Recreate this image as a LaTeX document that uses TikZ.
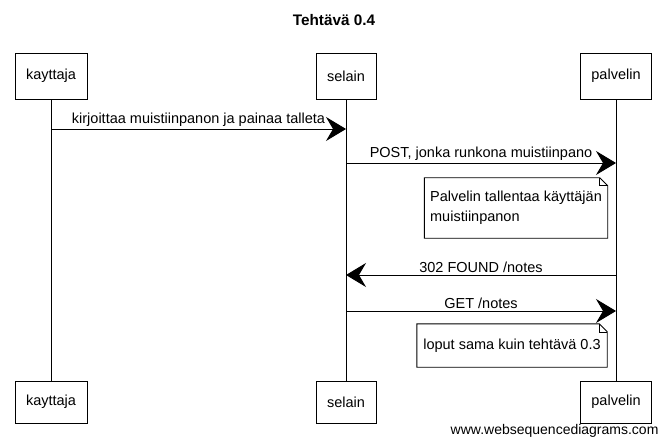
\documentclass[tikz,border=0pt]{standalone}
\usepackage{fontspec}
\setmainfont{Liberation Sans}
\usetikzlibrary{arrows.meta}
\tikzset{
  actor/.style={draw,line width=0.9pt,minimum height=46pt,inner xsep=11pt,font=\fontsize{14.5}{17}\selectfont},
  msg/.style={line width=0.9pt,-{Stealth[length=20pt,width=24pt,inset=7pt]}},
  lbl/.style={font=\fontsize{14.5}{17}\selectfont,inner sep=2pt},
  note/.style={align=left,font=\fontsize{14.5}{19.5}\selectfont,inner sep=4pt}
}
\begin{document}
\begin{tikzpicture}[x=1pt,y=-1pt]
    \useasboundingbox (0,0) rectangle (668,446);
    \node[font=\bfseries\fontsize{15.3}{18}\selectfont] (title) at (334,20) {Tehtävä 0.4};
    \foreach \n/\x/\t in {
    kay/51/kayttaja,
    sel/346/selain,
    pal/616/palvelin}{
        \node[actor] (\n-a) at (\x,76) {\t};
        \node[actor,minimum height=42pt] (\n-b) at (\x,402) {\t};
        \draw[line width=0.9pt] (\n-a) -- (\n-b);
    }
    % messages
    \coordinate (m1a) at (kay-a |- 0,129);
    \coordinate (m1b) at (sel-a |- 0,129);
    \coordinate (m2a) at (sel-a |- 0,163);
    \coordinate (m2b) at (pal-a |- 0,163);
    \coordinate (m3a) at (pal-a |- 0,275);
    \coordinate (m3b) at (sel-a |- 0,275);
    \coordinate (m4a) at (sel-a |- 0,311);
    \coordinate (m4b) at (pal-a |- 0,311);
    \draw[msg] (m1a) -- node[lbl,above] (l1) {kirjoittaa muistiinpanon ja painaa talleta} (m1b);
    \draw[msg] (m2a) -- node[lbl,above] (l2) {POST, jonka runkona muistiinpano} (m2b);
    \draw[msg] (m3a) -- node[lbl,above] (l3) {302 FOUND /notes} (m3b);
    \draw[msg] (m4a) -- node[lbl,above] (l4) {GET /notes} (m4b);
    % notes
    \node[note,minimum width=183pt,minimum height=60pt] (n1) at (516,208)
        {Palvelin tallentaa käyttäjän\\muistiinpanon};
    \node[note,minimum width=190pt,minimum height=43pt] (n2) at (512,345.5)
        {loput sama kuin tehtävä 0.3};
    \foreach \n in {n1,n2}{
        \draw[line width=0.9pt] (\n.north west) -- ([xshift=-8pt]\n.north east) -- ([yshift=-8pt]\n.north east)
            -- (\n.south east) -- (\n.south west) -- cycle;
        \draw[line width=0.6pt] ([xshift=-8pt]\n.north east) |- ([yshift=-8pt]\n.north east);
    }
    \node[font=\fontsize{14}{16}\selectfont,anchor=east] (www) at (662,431) {www.websequencediagrams.com};
\end{tikzpicture}
\end{document}
